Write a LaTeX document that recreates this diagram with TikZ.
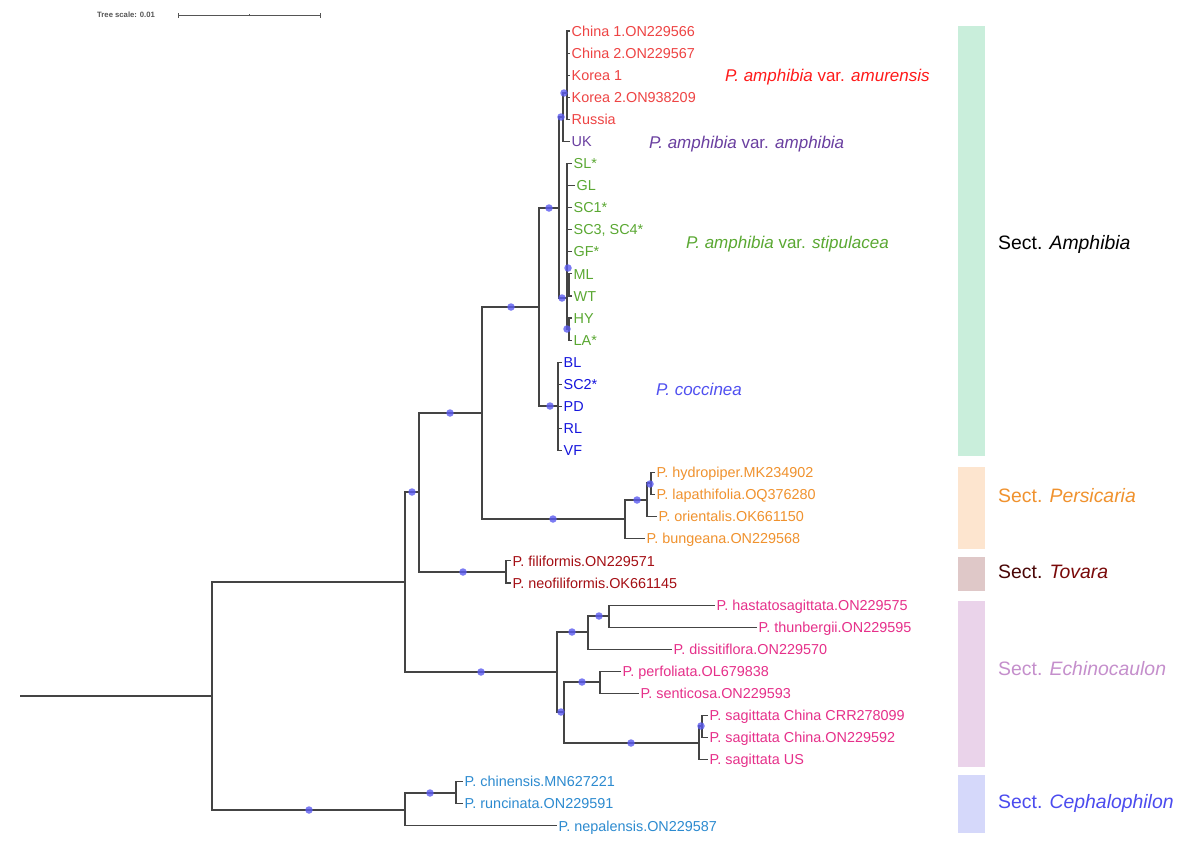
\documentclass[tikz,border=0pt]{standalone}
\usepackage{fontspec}
\setmainfont{Liberation Sans}
\definecolor{brc}{HTML}{444444}
\definecolor{dotc}{HTML}{5B5BF0}
\definecolor{cRed}{HTML}{EE4444}
\definecolor{cRedV}{HTML}{FF1A1A}
\definecolor{cPur}{HTML}{6A3FA0}
\definecolor{cGrn}{HTML}{5AA832}
\definecolor{cBlu}{HTML}{1515DD}
\definecolor{cBluV}{HTML}{5050F0}
\definecolor{cOra}{HTML}{F0922E}
\definecolor{cTov}{HTML}{A50F15}
\definecolor{cTovS}{HTML}{7A0A0A}
\definecolor{cPnk}{HTML}{E6308A}
\definecolor{cEchS}{HTML}{C58FCC}
\definecolor{cCep}{HTML}{2D8BD0}
\definecolor{cCepS}{HTML}{4B4BEF}
\definecolor{barA}{HTML}{C9EEDB}
\definecolor{barP}{HTML}{FDE5CF}
\definecolor{barT}{HTML}{DFC8C8}
\definecolor{barE}{HTML}{EAD3EA}
\definecolor{barC}{HTML}{D5D8FA}
\definecolor{scalec}{HTML}{555555}
\begin{document}
\begin{tikzpicture}[x=1pt,y=-1pt,
  br/.style={draw=brc, line width=1.05pt},
  leaf/.style={anchor=west, inner xsep=1.5pt, inner ysep=0pt, text height=10.2pt, text depth=0pt, font=\fontsize{14.4}{16}\selectfont},
  bs/.style={circle, fill=dotc, fill opacity=0.8, inner sep=0pt, minimum size=7.5pt},
  varlab/.style={anchor=west, inner sep=0pt, text height=12.2pt, text depth=0pt, font=\fontsize{17}{20}\selectfont},
  sectlab/.style={anchor=west, inner sep=0pt, text height=13.9pt, text depth=0pt, font=\fontsize{19.4}{22}\selectfont}
]
\useasboundingbox (0,0) rectangle (1181,854);
\fill[white] (0,0) rectangle (1181,854);

% ---------- side bars ----------
\fill[barA] (958,26) rectangle (985,456);
\fill[barP] (958,467) rectangle (985,549);
\fill[barT] (958,557) rectangle (985,591);
\fill[barE] (958,601) rectangle (985,767);
\fill[barC] (958,775) rectangle (985,833);
\node[sectlab] (sA) at (998,243) {Sect. \textit{Amphibia}};
\node[sectlab, text=cOra] (sP) at (998,496) {Sect. \textit{Persicaria}};
\node[sectlab, text=cTovS!60!black] (sT) at (998,572) {Sect. \textcolor{cTovS}{\textit{Tovara}}};
\node[sectlab, text=cEchS] (sE) at (998,669) {Sect. \textit{Echinocaulon}};
\node[sectlab, text=cCepS] (sC) at (998,802) {Sect. \textit{Cephalophilon}};

% ---------- variety labels ----------
\node[varlab, text=cRedV] (vAm) at (725,75) {\textit{P. amphibia} var. \textit{amurensis}};
\node[varlab, text=cPur] (vAp) at (649,142) {\textit{P. amphibia} var. \textit{amphibia}};
\node[varlab, text=cGrn] (vSt) at (686,242) {\textit{P. amphibia} var. \textit{stipulacea}};
\node[varlab, text=cBluV] (vCo) at (656,389) {\textit{P. coccinea}};

% ---------- tree scale ----------
\node[anchor=west, inner sep=0pt, text=scalec, font=\bfseries\fontsize{7.7}{9}\selectfont] (ts) at (97,15) {Tree scale: 0.01};
\coordinate (s0) at (178,15);
\coordinate (s1) at (320,15);
\coordinate (sm) at (249,15);
\draw[scalec, line width=0.8pt] (s0) -- (s1);
\draw[scalec, line width=0.8pt] ([yshift=-2.5pt]s0) -- ([yshift=2.5pt]s0);
\draw[scalec, line width=0.8pt] ([yshift=-2.5pt]s1) -- ([yshift=2.5pt]s1);
\draw[scalec, line width=0.6pt] ([yshift=-1.2pt]sm) -- ([yshift=1.2pt]sm);

% ---------- leaves ----------
\begin{scope}[every node/.append style={leaf}]
\node[text=cRed] (l1) at (570,31) {China 1.ON229566};
\node[text=cRed] (l2) at (570,53.1) {China 2.ON229567};
\node[text=cRed] (l3) at (570,75.2) {Korea 1};
\node[text=cRed] (l4) at (570,97.2) {Korea 2.ON938209};
\node[text=cRed] (l5) at (570,119.3) {Russia};
\node[text=cPur] (uk) at (570,141.4) {UK};
\node[text=cGrn] (g1) at (572,163.5) {SL*};
\node[text=cGrn] (g2) at (575,185.6) {GL};
\node[text=cGrn] (g3) at (572,207.6) {SC1*};
\node[text=cGrn] (g4) at (572,229.7) {SC3, SC4*};
\node[text=cGrn] (g5) at (572,251.8) {GF*};
\node[text=cGrn] (g6) at (572,273.9) {ML};
\node[text=cGrn] (g7) at (572,296) {WT};
\node[text=cGrn] (g8) at (572,318) {HY};
\node[text=cGrn] (g9) at (572,340.1) {LA*};
\node[text=cBlu] (b1) at (562,362.2) {BL};
\node[text=cBlu] (b2) at (562,384.3) {SC2*};
\node[text=cBlu] (b3) at (562,406.4) {PD};
\node[text=cBlu] (b4) at (562,428.4) {RL};
\node[text=cBlu] (b5) at (562,450.5) {VF};
\node[text=cOra] (hyd) at (655,472.6) {P. hydropiper.MK234902};
\node[text=cOra] (lap) at (655,494.7) {P. lapathifolia.OQ376280};
\node[text=cOra] (ori) at (657,516.8) {P. orientalis.OK661150};
\node[text=cOra] (bun) at (645,538.8) {P. bungeana.ON229568};
\node[text=cTov] (fil) at (511,560.9) {P. filiformis.ON229571};
\node[text=cTov] (neo) at (511,583) {P. neofiliformis.OK661145};
\node[text=cPnk] (has) at (715,605.1) {P. hastatosagittata.ON229575};
\node[text=cPnk] (thu) at (757,627.2) {P. thunbergii.ON229595};
\node[text=cPnk] (dis) at (672,649.2) {P. dissitiflora.ON229570};
\node[text=cPnk] (per) at (621,671.3) {P. perfoliata.OL679838};
\node[text=cPnk] (sen) at (639,693.4) {P. senticosa.ON229593};
\node[text=cPnk] (sa1) at (708,715.5) {P. sagittata China CRR278099};
\node[text=cPnk] (sa2) at (708,737.6) {P. sagittata China.ON229592};
\node[text=cPnk] (sa3) at (708,759.6) {P. sagittata US};
\node[text=cCep] (chi) at (463,781.7) {P. chinensis.MN627221};
\node[text=cCep] (run) at (463,803.8) {P. runcinata.ON229591};
\node[text=cCep] (nep) at (557,825.9) {P. nepalensis.ON229587};
\end{scope}

% ---------- internal nodes ----------
\coordinate (root) at (20,696);
\coordinate (R) at (212,696);
\coordinate (Ce) at (405,810);
\coordinate (CR) at (456,793);
\coordinate (N1) at (405,582);
\coordinate (N2) at (419,492);
\coordinate (Tv) at (506,572);
\coordinate (N3) at (482,413);
\coordinate (Am) at (539,307);
\coordinate (Co) at (558,406);
\coordinate (A) at (559,208);
\coordinate (B) at (563,117);
\coordinate (C) at (567,93);
\coordinate (D) at (567,298);
\coordinate (DW) at (569,285);
\coordinate (DH) at (569,329);
\coordinate (Pe) at (625,519);
\coordinate (P1) at (647,500);
\coordinate (P2) at (651,483);
\coordinate (E0) at (557,672);
\coordinate (E1) at (588,632);
\coordinate (E3) at (609,616);
\coordinate (E2) at (564,712);
\coordinate (E4) at (600,682);
\coordinate (E5) at (699,743);
\coordinate (E6) at (702,726);

% ---------- branches ----------
\draw[br] (root) -- (R);
\draw[br] (R) |- (N1);
\draw[br] (R) |- (Ce);
\draw[br] (Ce) |- (CR);
\draw[br] (Ce) |- (nep.west);
\draw[br] (CR) |- (chi.west);
\draw[br] (CR) |- (run.west);
\draw[br] (N1) |- (N2);
\draw[br] (N1) |- (E0);
\draw[br] (N2) |- (N3);
\draw[br] (N2) |- (Tv);
\draw[br] (Tv) |- (fil.west);
\draw[br] (Tv) |- (neo.west);
\draw[br] (N3) |- (Am);
\draw[br] (N3) |- (Pe);
\draw[br] (Pe) |- (P1);
\draw[br] (Pe) |- (bun.west);
\draw[br] (P1) |- (P2);
\draw[br] (P1) |- (ori.west);
\draw[br] (P2) |- (hyd.west);
\draw[br] (P2) |- (lap.west);
\draw[br] (Am) |- (A);
\draw[br] (Am) |- (Co);
\foreach \l in {b1,b2,b3,b4,b5} \draw[br] (Co) |- (\l.west);
\draw[br] (A) |- (B);
\draw[br] (A) |- (D);
\draw[br] (B) |- (C);
\draw[br] (B) |- (uk.west);
\foreach \l in {l1,l2,l3,l4,l5} \draw[br] (C) |- (\l.west);
\foreach \l in {g1,g2,g3,g4,g5} \draw[br] (D) |- (\l.west);
\draw[br] (D) |- (DW);
\draw[br] (D) |- (DH);
\draw[br] (DW) |- (g6.west);
\draw[br] (DW) |- (g7.west);
\draw[br] (DH) |- (g8.west);
\draw[br] (DH) |- (g9.west);
\draw[br] (E0) |- (E1);
\draw[br] (E0) |- (E2);
\draw[br] (E1) |- (E3);
\draw[br] (E1) |- (dis.west);
\draw[br] (E3) |- (has.west);
\draw[br] (E3) |- (thu.west);
\draw[br] (E2) |- (E4);
\draw[br] (E2) |- (E5);
\draw[br] (E4) |- (per.west);
\draw[br] (E4) |- (sen.west);
\draw[br] (E5) |- (E6);
\draw[br] (E5) |- (sa3.west);
\draw[br] (E6) |- (sa1.west);
\draw[br] (E6) |- (sa2.west);

% ---------- support dots ----------
\foreach \p [count=\i] in {(309,810),(430,793),(412,492),(450,413),(463,572),(511,307),(553,519),(637,500),(650,484),(549,208),(550,406),(561,117),(564,93),(562,298),(568,268),(567,329),(481,672),(572,632),(599,616),(561,712),(582,682),(631,743),(701,726)}
  \node[bs] (d\i) at \p {};
\end{tikzpicture}
\end{document}
